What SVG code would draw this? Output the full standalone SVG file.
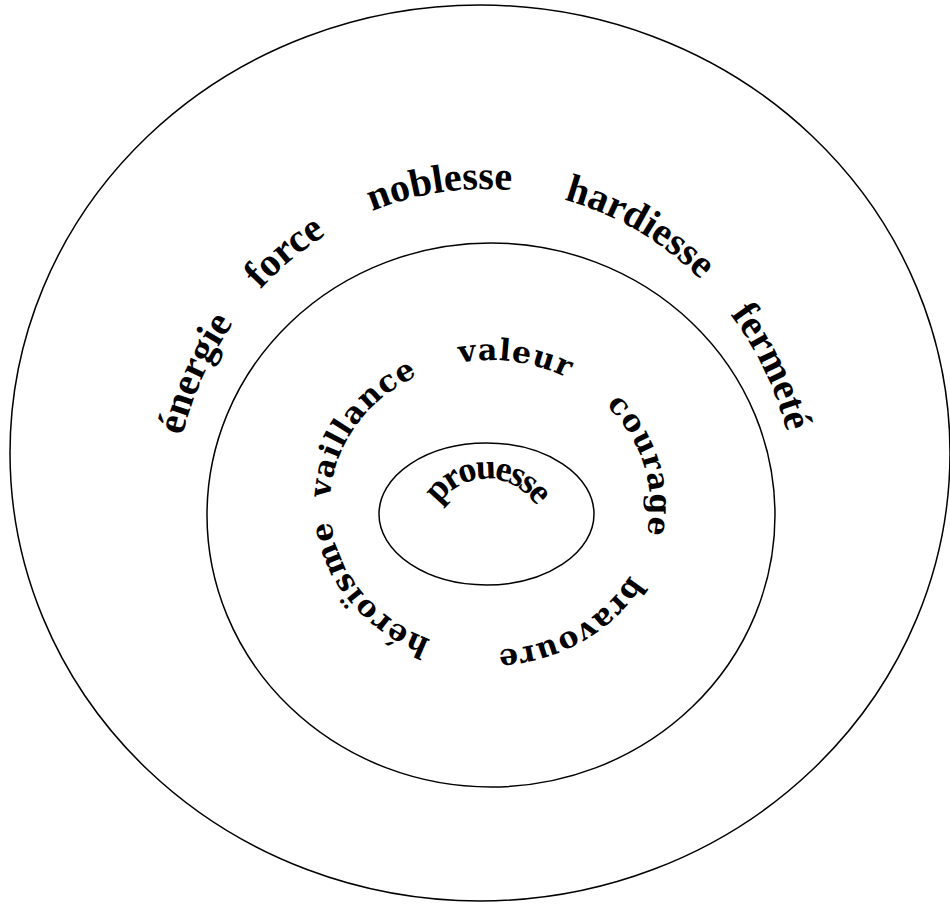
<svg xmlns="http://www.w3.org/2000/svg" width="950" height="905" viewBox="0 0 950 905">
<style>
.ring{fill:none;stroke:#000;stroke-width:1.5}
.o{font-family:"Liberation Serif","Times New Roman",serif;font-weight:bold;font-size:40px;fill:#000}
.m{font-family:"DejaVu Serif","Liberation Serif",serif;font-weight:bold;font-size:30px;letter-spacing:1px;fill:#000}
.c{font-family:"Liberation Serif","Times New Roman",serif;font-weight:bold;font-size:36px;letter-spacing:-2.5px;fill:#000}
</style>
<defs>
<path id="pEnergie" d="M 175.9 571.8 A 313 331 0 0 1 333.3 230.5"/>
<path id="pForce" d="M 187.3 417.7 A 313 331 0 0 1 474.1 189.2"/>
<path id="pNoblesse" d="M 271.5 277.9 A 313 331 0 0 1 627.1 225.1"/>
<path id="pHardiesse" d="M 446.8 191.5 A 313 331 0 0 1 763.9 369.7"/>
<path id="pFermete" d="M 627.1 225.1 A 313 331 0 0 1 795.7 560.3"/>
<path id="pValeur" d="M 406.4 381.4 A 160 145 0 0 1 609.8 408.9"/>
<path id="pCourage" d="M 580.8 385.7 A 160 145 0 0 1 635.5 565.4"/>
<path id="pBravoure" d="M 642.3 549.3 A 160 145 0 0 1 468.3 648.7"/>
<path id="pHeroisme" d="M 447.0 644.7 A 160 145 0 0 1 330.8 490.8"/>
<path id="pVaillance" d="M 331.6 525.4 A 160 145 0 0 1 440.3 367.2"/>
<path id="pProuesse" d="M 429.2 531.9 A 58 58 0 0 1 544.8 531.9"/>
</defs>
<g id="outer-ring">
<ellipse class="ring" cx="480" cy="453" rx="470" ry="448"/>
<text class="o" text-anchor="middle"><textPath href="#pEnergie" startOffset="50%">énergie</textPath></text>
<text class="o" text-anchor="middle"><textPath href="#pForce" startOffset="49%">force</textPath></text>
<text class="o" text-anchor="middle"><textPath href="#pNoblesse" startOffset="50%">noblesse</textPath></text>
<text class="o" text-anchor="middle"><textPath href="#pHardiesse" startOffset="51%">hardiesse</textPath></text>
<text class="o" text-anchor="middle"><textPath href="#pFermete" startOffset="51%">fermeté</textPath></text>
</g>
<g id="middle-ring">
<ellipse class="ring" cx="491" cy="515" rx="284" ry="272"/>
<text class="m" text-anchor="middle"><textPath href="#pValeur" startOffset="51%">valeur</textPath></text>
<text class="m" text-anchor="middle"><textPath href="#pCourage" startOffset="50%">courage</textPath></text>
<text class="m" text-anchor="middle"><textPath href="#pBravoure" startOffset="50%">bravoure</textPath></text>
<text class="m" text-anchor="middle"><textPath href="#pHeroisme" startOffset="47%">héroïsme</textPath></text>
<text class="m" text-anchor="middle"><textPath href="#pVaillance" startOffset="51%">vaillance</textPath></text>
</g>
<g id="core">
<ellipse class="ring" cx="486.5" cy="514" rx="107.5" ry="71"/>
<text class="c" text-anchor="middle"><textPath href="#pProuesse" startOffset="50%">prouesse</textPath></text>
</g>
<g id="connectors"/>
</svg>
